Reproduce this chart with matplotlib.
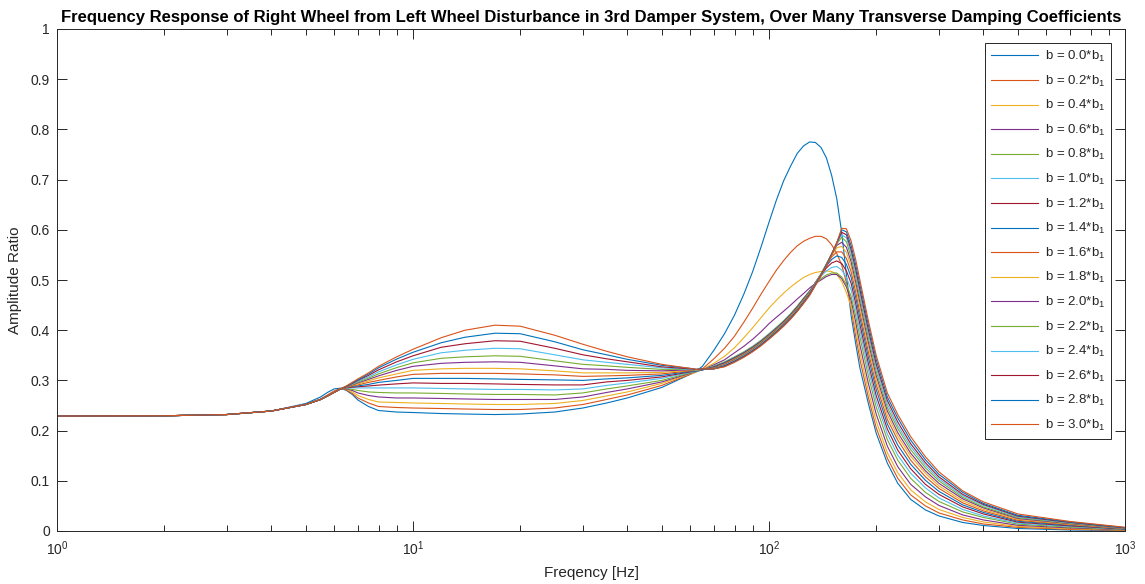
import matplotlib
matplotlib.use("Agg")
import matplotlib.pyplot as plt
from matplotlib.ticker import LogLocator, FixedLocator, FixedFormatter, NullFormatter

plt.rcParams['font.family'] = ['Liberation Sans', 'DejaVu Sans']
plt.rcParams['mathtext.fontset'] = 'custom'
plt.rcParams['mathtext.rm'] = 'Liberation Sans'
plt.rcParams['mathtext.it'] = 'Liberation Sans:italic'
plt.rcParams['mathtext.bf'] = 'Liberation Sans:bold'

# Frequency samples (Hz) shared by every response curve
freq_hz = [1, 2, 3, 4, 5,
           5.5, 5.75, 6, 6.25, 6.5, 6.75, 7, 7.5, 8, 9, 10,
           12, 14, 17, 20, 25, 30, 35, 40, 50,
           60, 62.5, 65, 70, 75, 80, 85, 90, 95, 100, 105, 110, 115, 120, 125, 130,
           135, 140, 145, 150, 155, 160, 165, 170, 175, 180,
           190, 200, 215, 230, 250, 275, 300, 350, 400, 500, 700, 1000]

# Transverse damping coefficient, as a multiple of b1
damping_factors = [0.0, 0.2, 0.4, 0.6, 0.8, 1.0, 1.2, 1.4, 1.6, 1.8, 2.0, 2.2, 2.4, 2.6, 2.8, 3.0]

# Amplitude ratio (right wheel / left wheel disturbance) for each damping value
amp_b00 = [.229, .2295, .232, .239, .254,
           .267, .276, .283, .2845, .280, .272, .261, .248, .240, .237, .236,
           .234, .233, .232, .233, .237, .245, .255, .265, .286,
           .312, .319, .328, .360, .393, .430, .472, .517, .566, .615, .660, .698, .727, .752, .767, .775,
           .774, .764, .743, .708, .662, .595, .510, .430, .375, .325,
           .255, .195, .135, .095, .063, .042, .030, .017, .011, .005, .002, .001]
amp_b02 = [.229, .2295, .232, .239, .252,
           .263, .271, .279, .284, .281, .274, .265, .255, .248, .246, .245,
           .244, .243, .242, .242, .245, .252, .262, .271, .290,
           .312, .317, .323, .343, .364, .388, .416, .444, .472, .497, .520, .539, .555, .568, .577, .583,
           .587, .587, .582, .570, .553, .530, .495, .445, .390, .342,
           .267, .206, .145, .105, .072, .050, .036, .022, .014, .0073, .0032, .0014]
amp_b04 = [.229, .2295, .232, .239, .252,
           .262, .270, .277, .283, .282, .277, .270, .262, .257, .256, .255,
           .254, .253, .252, .252, .254, .260, .269, .277, .294,
           .313, .317, .322, .334, .348, .365, .385, .405, .425, .444, .460, .474, .486, .496, .505, .511,
           .515, .517, .518, .517, .511, .497, .475, .448, .404, .356,
           .280, .219, .156, .116, .082, .058, .043, .027, .018, .009, .0046, .0019]
amp_b06 = [.229, .2295, .232, .239, .252,
           .262, .269, .276, .283, .283, .280, .275, .270, .267, .265, .265,
           .264, .263, .262, .262, .262, .267, .276, .283, .297,
           .314, .318, .321, .331, .341, .355, .368, .382, .397, .413, .426, .438, .450, .462, .473, .484,
           .493, .500, .507, .511, .511, .503, .486, .460, .418, .371,
           .295, .233, .169, .128, .093, .068, .051, .032, .022, .0113, .0061, .0025]
amp_b08 = [.229, .2295, .232, .239, .252,
           .262, .269, .276, .283, .284, .282, .280, .277, .276, .275, .275,
           .274, .273, .272, .272, .271, .275, .283, .289, .300,
           .315, .318, .321, .329, .337, .347, .357, .368, .380, .393, .406, .419, .433, .448, .464, .478,
           .491, .503, .510, .514, .514, .506, .491, .468, .430, .387,
           .310, .247, .182, .141, .105, .077, .059, .038, .027, .0137, .0077, .003]
amp_b10 = [.229, .2295, .232, .239, .252,
           .262, .269, .276, .283, .285, .285, .285, .285, .285, .285, .285,
           .284, .283, .282, .282, .281, .283, .290, .295, .304,
           .316, .318, .321, .328, .336, .346, .356, .367, .379, .392, .405, .418, .432, .447, .463, .478,
           .494, .508, .518, .525, .527, .520, .505, .481, .443, .400,
           .323, .259, .193, .151, .115, .086, .066, .043, .030, .0157, .009, .0035]
amp_b12 = [.229, .2295, .232, .239, .252,
           .262, .269, .276, .283, .2855, .2864, .2873, .2889, .2906, .2931, .295,
           .294, .294, .293, .292, .291, .291, .297, .300, .307,
           .317, .319, .321, .327, .335, .345, .355, .366, .378, .391, .404, .417, .431, .446, .462, .477,
           .494, .510, .524, .534, .538, .533, .518, .494, .455, .412,
           .335, .270, .203, .161, .124, .093, .073, .048, .034, .0176, .0102, .0039]
amp_b14 = [.229, .2295, .232, .239, .252,
           .262, .269, .276, .283, .286, .288, .289, .292, .296, .300, .304,
           .304, .304, .303, .302, .301, .300, .303, .305, .310,
           .318, .319, .321, .326, .334, .344, .354, .365, .377, .390, .403, .416, .430, .445, .461, .477,
           .495, .511, .528, .541, .548, .545, .531, .506, .467, .425,
           .347, .282, .213, .171, .133, .101, .079, .052, .037, .0193, .0115, .0043]
amp_b16 = [.229, .2295, .232, .239, .252,
           .262, .269, .276, .283, .286, .289, .291, .296, .300, .307, .312,
           .314, .314, .314, .313, .311, .308, .309, .310, .313,
           .319, .320, .322, .325, .333, .343, .353, .364, .376, .389, .402, .415, .429, .444, .460, .476,
           .495, .512, .530, .546, .556, .556, .543, .517, .478, .436,
           .358, .292, .222, .181, .141, .108, .085, .056, .040, .0213, .0126, .0047]
amp_b18 = [.229, .2295, .232, .239, .252,
           .262, .269, .276, .283, .287, .290, .293, .299, .305, .313, .320,
           .323, .324, .324, .323, .319, .315, .315, .315, .316,
           .320, .320, .322, .324, .332, .342, .352, .363, .375, .388, .401, .414, .428, .443, .459, .475,
           .494, .512, .531, .549, .564, .567, .555, .528, .489, .446,
           .368, .301, .231, .189, .149, .115, .090, .060, .043, .0232, .0136, .0051]
amp_b20 = [.229, .2295, .232, .239, .252,
           .262, .269, .276, .283, .287, .291, .295, .302, .309, .320, .328,
           .334, .336, .337, .336, .329, .323, .322, .320, .319,
           .321, .321, .322, .324, .331, .341, .351, .362, .374, .387, .400, .413, .427, .442, .458, .474,
           .494, .512, .532, .551, .569, .575, .565, .537, .498, .456,
           .377, .310, .239, .196, .155, .120, .095, .064, .046, .0249, .0146, .0054]
amp_b22 = [.229, .2295, .232, .239, .252,
           .262, .269, .276, .283, .2875, .292, .2965, .3045, .313, .3255, .335,
           .344, .347, .349, .348, .339, .332, .329, .326, .322,
           .322, .321, .322, .324, .330, .340, .350, .361, .373, .386, .399, .412, .426, .441, .457, .473,
           .493, .512, .532, .552, .572, .585, .576, .546, .507, .465,
           .386, .318, .246, .204, .162, .126, .100, .067, .048, .0266, .0155, .0058]
amp_b24 = [.229, .2295, .232, .239, .252,
           .262, .269, .276, .283, .288, .293, .298, .307, .317, .331, .342,
           .355, .360, .364, .363, .351, .341, .336, .332, .325,
           .322, .321, .323, .323, .330, .339, .349, .360, .372, .385, .398, .411, .425, .440, .456, .472,
           .492, .511, .531, .552, .574, .590, .584, .554, .515, .473,
           .394, .326, .253, .210, .168, .131, .104, .070, .051, .0281, .0163, .0061]
amp_b26 = [.229, .2295, .232, .239, .252,
           .262, .269, .276, .283, .288, .294, .300, .310, .321, .337, .349,
           .366, .373, .379, .378, .364, .351, .343, .337, .327,
           .323, .322, .323, .323, .329, .338, .348, .359, .371, .384, .397, .410, .424, .439, .455, .471,
           .491, .510, .530, .552, .574, .595, .590, .561, .523, .481,
           .402, .333, .260, .217, .174, .136, .108, .073, .053, .0296, .0171, .0063]
amp_b28 = [.229, .2295, .232, .239, .252,
           .262, .269, .276, .283, .2885, .295, .301, .3127, .325, .3425, .356,
           .375, .386, .394, .393, .377, .361, .351, .342, .330,
           .324, .322, .323, .323, .328, .337, .347, .358, .370, .383, .396, .409, .423, .438, .454, .470,
           .490, .509, .529, .551, .574, .600, .596, .569, .532, .491,
           .411, .342, .267, .225, .181, .142, .113, .077, .055, .0313, .018, .0067]
amp_b30 = [.229, .2295, .232, .239, .252,
           .262, .269, .276, .283, .289, .296, .303, .315, .328, .347, .362,
           .385, .400, .410, .408, .390, .372, .358, .347, .332,
           .324, .322, .323, .323, .327, .336, .346, .357, .369, .382, .395, .408, .422, .437, .453, .469,
           .489, .508, .528, .550, .574, .603, .602, .578, .542, .500,
           .420, .350, .275, .232, .188, .148, .118, .080, .058, .034, .019, .0075]

responses = [amp_b00, amp_b02, amp_b04, amp_b06, amp_b08, amp_b10, amp_b12, amp_b14,
             amp_b16, amp_b18, amp_b20, amp_b22, amp_b24, amp_b26, amp_b28, amp_b30]

y_ticks = [0, 0.1, 0.2, 0.3, 0.4, 0.5, 0.6, 0.7, 0.8, 0.9, 1]
y_tick_labels = ['0', '0.1', '0.2', '0.3', '0.4', '0.5', '0.6', '0.7', '0.8', '0.9', '1']

# default line colour order, repeated every seven curves
line_colors = ['#0072BD', '#D95319', '#EDB120', '#7E2F8E', '#77AC30', '#4DBEEE', '#A2142F']
ink = '#262626'

W, H = 1145, 584
fig = plt.figure(figsize=(W / 100, H / 100), dpi=100)
ax = fig.add_axes([57 / W, (H - 531) / H, 1068 / W, 502 / H])

for k, (b, amp) in enumerate(zip(damping_factors, responses)):
    ax.plot(freq_hz, amp, color=line_colors[k % len(line_colors)], lw=0.8,
            label='b = %.1f*b$_{1}$' % b)

ax.set_xscale('log')
ax.set_xlim(1, 1000)
ax.set_ylim(0, 1)
ax.xaxis.set_major_locator(LogLocator(base=10, numticks=10))
ax.xaxis.set_minor_locator(LogLocator(base=10, subs=[2, 3, 4, 5, 6, 7, 8, 9], numticks=20))
ax.xaxis.set_minor_formatter(NullFormatter())
ax.yaxis.set_major_locator(FixedLocator(y_ticks))
ax.yaxis.set_major_formatter(FixedFormatter(y_tick_labels))

ax.tick_params(which='both', direction='in', top=True, right=True, colors=ink,
               labelcolor=ink, labelsize=10, width=0.7)
ax.tick_params(which='major', length=7)
ax.tick_params(which='minor', length=4)
ax.tick_params(axis='y', which='major', pad=5)
ax.tick_params(axis='x', which='major', pad=6)
for s in ax.spines.values():
    s.set_color(ink)
    s.set_linewidth(0.7)

ax.set_title('Frequency Response of Right Wheel from Left Wheel Disturbance in 3rd Damper System, '
             'Over Many Transverse Damping Coefficients',
             fontsize=12, fontweight='bold', color='black', pad=5)
ax.set_xlabel('Freqency [Hz]', fontsize=11, color=ink, labelpad=6)
ax.set_ylabel('Amplitude Ratio', fontsize=11, color=ink, labelpad=6)

leg = ax.legend(loc='upper right', bbox_to_anchor=(1 - 14 / 1068, 1 - 14 / 502),
                borderaxespad=0, fontsize=9.5, fancybox=False, framealpha=1,
                edgecolor=ink, handlelength=3.6, handletextpad=0.5,
                labelspacing=0.72, borderpad=0.45)
leg.get_frame().set_linewidth(0.7)
for t in leg.get_texts():
    t.set_color(ink)

fig.savefig('out.png', dpi=100, facecolor='white')
